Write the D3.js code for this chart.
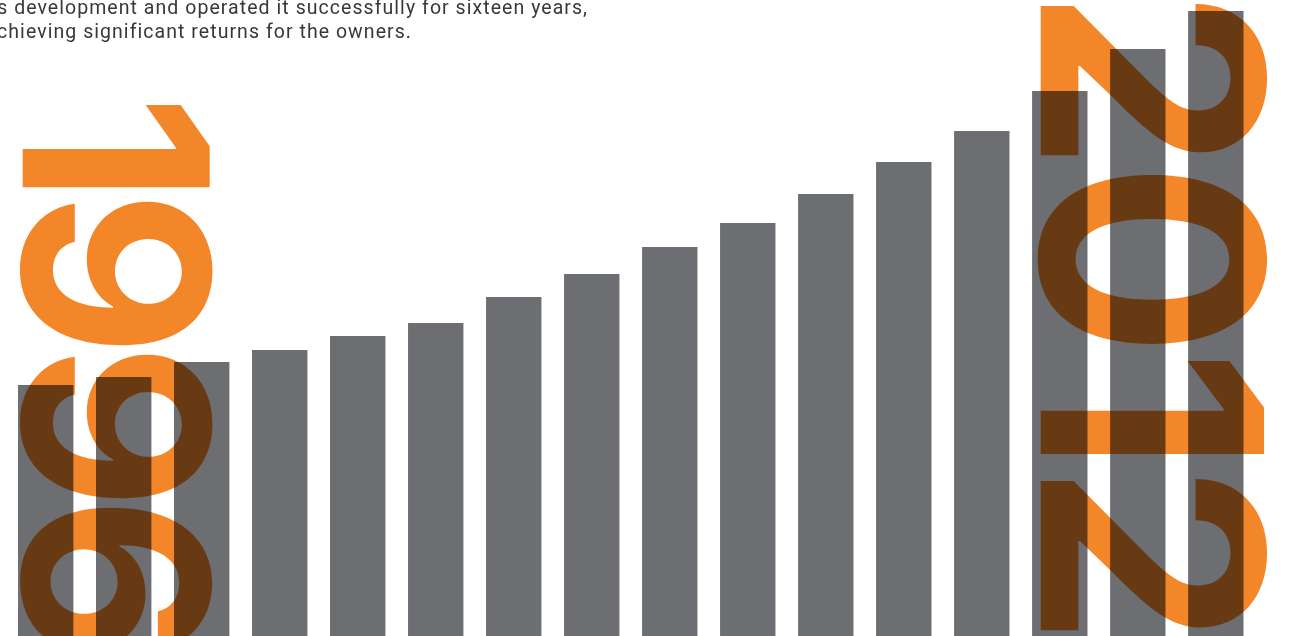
<!DOCTYPE html>
<html>
<head>
<meta charset="utf-8">
<script src="https://cdn.jsdelivr.net/npm/d3@7"></script>
<style>
  html, body { margin: 0; padding: 0; background: #ffffff; overflow: hidden; }
  svg { display: block; }
</style>
</head>
<body>
<svg id="chart" width="1290" height="636"></svg>
<script>
// ---- data ----
const years = ["1997","1998","1999","2000","2001","2002","2003","2004","2005","2006","2007","2008","2009","2010","2011","2012"];
const values = [251, 259, 274, 286, 300, 313, 339, 362, 389, 413, 442, 474, 505, 545, 587, 625];
const startLabel = "1996";
const endLabel = "2012";
const introLines = [
  "its development and operated it successfully for sixteen years,",
  "achieving significant returns for the owners."
];

// ---- layout ----
const W = 1290, H = 636;
const svg = d3.select("#chart");

const x = d3.scaleBand().domain(years).range([18, 1243.5]).paddingInner(0.29).paddingOuter(0);
const y = d3.scaleLinear().domain([0, 636]).range([H, 0]);

// intro text (cut off at the left edge)
const intro = svg.append("g")
  .attr("font-family", "Roboto, 'Liberation Sans', sans-serif")
  .attr("font-size", 19.5)
  .attr("letter-spacing", 1.05)
  .attr("fill", "#38383a");
intro.selectAll("text").data(introLines).join("text")
  .attr("x", (d, i) => i === 0 ? 588 : 412)
  .attr("y", (d, i) => 14 + i * 23.7)
  .attr("text-anchor", "end")
  .text(d => d);

// big orange year labels (rotated, reading top to bottom)
const big = svg.append("g")
  .attr("font-family", "Inter, Roboto, sans-serif")
  .attr("font-weight", 700)
  .attr("fill", "#f4862a");

big.append("text")
  .attr("transform", "translate(22.7,371) rotate(90)")
  .attr("text-anchor", "middle")
  .attr("font-size", 257)
  .attr("letter-spacing", -14)
  .text(startLabel);

big.append("text")
  .attr("transform", "translate(1040.7,312.5) rotate(90) scale(0.945,1)")
  .attr("text-anchor", "middle")
  .attr("font-size", 307)
  .attr("letter-spacing", -10)
  .text(endLabel);

// bars, multiplied over the labels
svg.append("g")
  .selectAll("rect").data(years).join("rect")
  .attr("x", d => x(d))
  .attr("width", x.bandwidth())
  .attr("y", (d, i) => y(values[i]))
  .attr("height", (d, i) => H - y(values[i]))
  .attr("fill", "#6d6e71")
  .style("mix-blend-mode", "multiply");
</script>
</body>
</html>
